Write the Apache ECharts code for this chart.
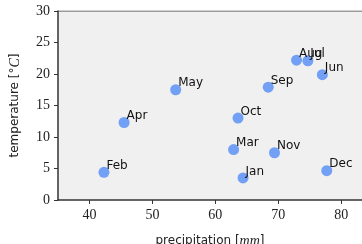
<!DOCTYPE html>
<html>
<head>
<meta charset="utf-8">
<script src="https://cdn.jsdelivr.net/npm/echarts@6/dist/echarts.min.js"></script>
<style>
  html, body { margin: 0; padding: 0; background: #fff; }
  #chart { width: 362px; height: 244px; }
</style>
</head>
<body>
<div id="chart"></div>
<script>
// monthly climate values
const months = ['Jan', 'Feb', 'Mar', 'Apr', 'May', 'Jun', 'Jul', 'Aug', 'Sep', 'Oct', 'Nov', 'Dec'];
const precipitation = [64.4, 42.3, 62.9, 45.5, 53.7, 77.0, 74.7, 72.9, 68.4, 63.6, 69.4, 77.7];
const temperature = [3.5, 4.4, 8.0, 12.3, 17.5, 19.9, 22.1, 22.2, 17.9, 13.0, 7.5, 4.65];
const xTicks = [40, 50, 60, 70, 80];

const points = months.map((m, i) => [precipitation[i], temperature[i], m]);

const tickFont = {
  fontFamily: 'Liberation Serif',
  fontSize: 14,
  color: '#222'
};

const nameFont = {
  fontFamily: 'DejaVu Sans',
  fontSize: 12,
  color: '#222',
  rich: {
    i: { fontFamily: 'Liberation Serif', fontStyle: 'italic', fontSize: 14, color: '#222' }
  }
};

const option = {
  animation: false,
  grid: {
    left: 58,
    top: 11,
    right: 0,
    bottom: 44,
    outerBoundsMode: 'none',
    containLabel: false,
    show: true,
    backgroundColor: '#f0f0f0',
    borderWidth: 0
  },
  xAxis: {
    type: 'value',
    min: 35,
    max: 83.3,
    name: 'precipitation [{i|mm}]',
    nameLocation: 'middle',
    nameGap: 34,
    nameTextStyle: nameFont,
    axisLine: { show: true, lineStyle: { color: '#333', width: 1.5 } },
    axisTick: { show: true, customValues: xTicks, length: 4, lineStyle: { color: '#333' } },
    axisLabel: Object.assign({ customValues: xTicks, margin: 8 }, tickFont),
    splitLine: { show: false }
  },
  yAxis: {
    type: 'value',
    min: 0,
    max: 30,
    interval: 5,
    name: 'temperature [°{i|C}]',
    nameLocation: 'middle',
    nameGap: 36,
    nameTextStyle: nameFont,
    axisLine: { show: true, lineStyle: { color: '#333', width: 1.5 } },
    axisTick: { show: true, length: 4, lineStyle: { color: '#333' } },
    axisLabel: Object.assign({ margin: 8 }, tickFont),
    splitLine: { show: false }
  },
  series: [
    {
      // top frame line of the plot area
      type: 'line',
      data: [[35, 30], [83.3, 30]],
      symbol: 'none',
      silent: true,
      lineStyle: { color: '#444', width: 1.2 }
    },
    {
      type: 'scatter',
      data: points,
      symbolSize: 11,
      itemStyle: { color: '#72a0f5', opacity: 1 },
      label: {
        show: true,
        formatter: p => p.data[2],
        position: [8, 5],
        align: 'left',
        verticalAlign: 'bottom',
        fontFamily: 'DejaVu Sans',
        fontSize: 12,
        color: '#111'
      }
    }
  ]
};

const myChart = echarts.init(document.getElementById('chart'), null, { renderer: 'canvas' });
myChart.setOption(option);
</script>
</body>
</html>
